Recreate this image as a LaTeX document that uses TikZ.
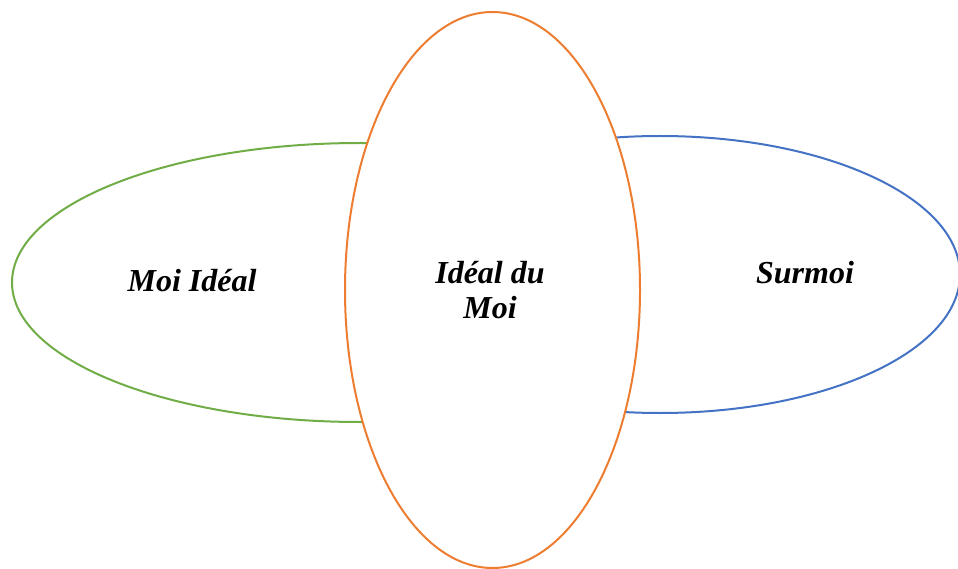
\documentclass[tikz,border=0pt]{standalone}
\usepackage{fontspec}
\setmainfont{Liberation Serif}
\usetikzlibrary{shapes.geometric}
\definecolor{mgreen}{HTML}{70AD47}
\definecolor{mblue}{HTML}{4472C4}
\definecolor{morange}{HTML}{ED7D31}
\begin{document}
\begin{tikzpicture}[x=1pt,y=1pt,
  oval/.style={ellipse,draw,fill=white,line width=2pt,inner sep=0pt},
  lbl/.style={font=\fontsize{32}{35}\selectfont\bfseries\itshape,align=center,inner sep=0pt}]
\useasboundingbox (0,0) rectangle (958,-569);
\clip (0,0) rectangle (958,-569);
\node[oval,draw=mgreen,minimum width=696pt,minimum height=279pt] (ideal) at (360,-282.5) {};
\node[oval,draw=mblue,minimum width=600pt,minimum height=277pt] (surmoi) at (660,-274.5) {};
\node[oval,draw=morange,minimum width=295pt,minimum height=556pt] (idealdu) at (492.5,-290) {};
\node[lbl] (t1) at (192,-281) {Moi Idéal};
\node[lbl] (t2) at (490,-290) {Idéal du\\Moi};
\node[lbl] (t3) at (805,-273) {Surmoi};
\end{tikzpicture}
\end{document}
